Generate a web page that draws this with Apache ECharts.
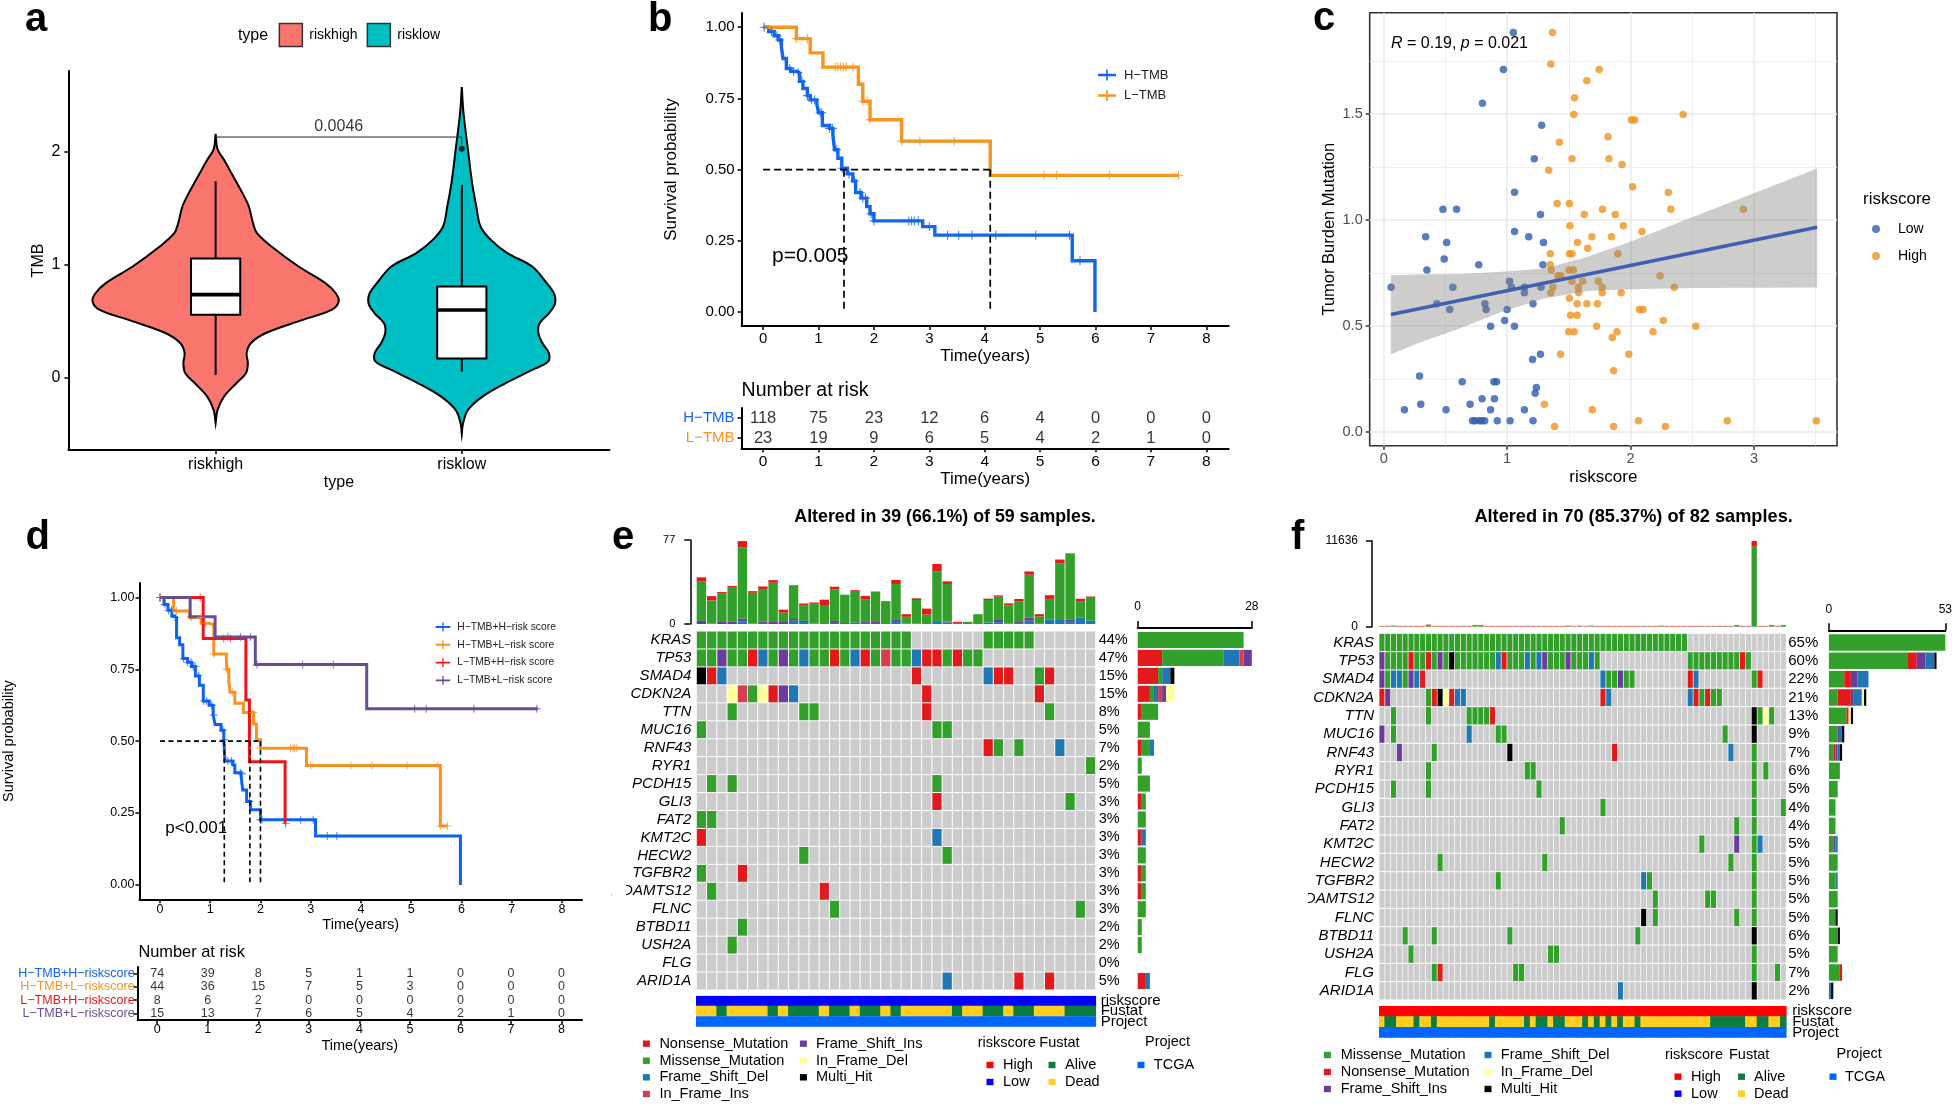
<!DOCTYPE html>
<html><head><meta charset="utf-8">
<style>html,body{margin:0;padding:0;background:#fff}#c{width:1955px;height:1106px}</style>
<script src="https://cdn.jsdelivr.net/npm/echarts@6/dist/echarts.min.js"></script>
</head><body><div id="c"></div>
<script>
// ---------- panel a ----------
const violinTypes = ['riskhigh', 'risklow'];
const violinHigh = [[2.156,0],[2.044,.005],[2,.012],[1.926,.034],[1.809,.064],[1.632,.109],[1.514,.135],[1.367,.152],[1.278,.168],[1.161,.227],[.984,.337],[.837,.446],[.748,.488],[.675,.5],[.601,.471],[.513,.354],[.395,.202],[.306,.143],[.218,.126],[.13,.131],[.041,.123],[-.047,.084],[-.165,.034],[-.283,.008],[-.401,0]];
const violinLow = [[2.568,0],[2.339,.007],[2.015,.025],[1.72,.042],[1.514,.059],[1.337,.076],[1.219,.118],[1.102,.185],[.984,.286],[.837,.345],[.748,.374],[.66,.379],[.571,.354],[.483,.316],[.395,.311],[.306,.328],[.218,.354],[.144,.35],[.071,.286],[-.047,.177],[-.165,.084],[-.283,.025],[-.401,.005],[-.495,0]];
const boxHigh = [.027,.557,.736,1.055,1.735];
const boxLow = [.056,.171,.6,.807,1.705];
const outlierLow = [[2,2.024]];
const bracket = [[1,2.127],[2,2.127],[2,2.06]];
// ---------- panel b ----------
const hTmb = [[0,1],[.1,.985],[.2,.97],[.28,.955],[.33,.93],[.36,.89],[.42,.855],[.5,.845],[.62,.84],[.66,.81],[.72,.785],[.8,.76],[.85,.745],[.97,.73],[1,.7],[1.07,.655],[1.2,.645],[1.26,.62],[1.29,.57],[1.35,.54],[1.42,.505],[1.52,.485],[1.62,.46],[1.67,.42],[1.77,.4],[1.87,.37],[1.93,.345],[2,.32],[2.88,.3],[3.1,.27],[5.58,.18],[5.99,0]];
const lTmb = [[0,1],[.6,.96],[.85,.91],[1.08,.86],[1.72,.8],[1.8,.74],[1.93,.675],[2.5,.6],[4.1,.48],[7.5,.48]];
const hTmbCens = [.02,.15,.25,.3,.48,.55,.63,.7,.8,.87,.93,1.03,1.06,1.2,1.25,1.33,1.43,1.55,1.65,1.75,1.8,1.85,1.95,2,2.63,2.68,2.73,2.8,3,3.33,3.53,3.77,4.2,4.92,5.53,5.72];
const lTmbCens = [.6,.8,1.3,1.35,1.4,1.45,1.5,1.62,1.8,1.88,1.93,2.5,2.83,3.45,5.07,5.3,6.25,7.5];
const medianB = {level:.5, times:[1.46,4.1]};
const riskTimes = [0,1,2,3,4,5,6,7,8];
const riskRowsB = ['H\u2212TMB','L\u2212TMB'];
const riskB = [[118,75,23,12,6,4,0,0,0],[23,19,9,6,5,4,2,1,0]];
// ---------- panel c ----------
const lowPts = [[1.05,1.885],[.97,1.71],[.8,1.55],[1.28,1.447],[1.22,1.288],[1.06,1.13],[.48,1.05],[.59,1.05],[1.27,1.025],[1.06,.945],[.34,.92],[1.175,.92],[.51,.893],[1.295,.893],[.49,.815],[.77,.788],[1.29,.788],[.35,.763],[1.02,.71],[.06,.682],[.56,.682],[1.035,.682],[1.14,.682],[1.275,.682],[1.14,.656],[.43,.604],[.82,.604],[1.21,.604],[.535,.577],[.83,.577],[1,.577],[.98,.525],[.866,.498],[1.06,.498],[1.27,.366],[1.206,.341],[.29,.263],[.636,.236],[.893,.236],[.914,.236],[1.237,.209],[1.227,.182],[.797,.156],[.897,.156],[.3,.13],[.7,.13],[.168,.104],[.505,.104],[.866,.104],[1.14,.104],[.72,.052],[.74,.052],[.777,.052],[.794,.052],[.818,.052],[.92,.052],[1.024,.052],[1.21,.052]];
const highPts = [[1.368,1.885],[1.354,1.736],[1.746,1.71],[1.646,1.657],[1.546,1.577],[1.54,1.498],[2.426,1.498],[2.007,1.472],[2.034,1.472],[1.818,1.393],[1.423,1.366],[1.526,1.288],[1.825,1.288],[1.931,1.261],[1.337,1.234],[2.017,1.156],[2.306,1.129],[1.405,1.077],[1.505,1.077],[1.773,1.05],[2.326,1.05],[2.914,1.05],[1.625,1.025],[1.876,1.025],[1.509,.972],[1.942,.972],[2.093,.945],[1.687,.92],[1.845,.92],[1.57,.893],[1.653,.866],[1.35,.84],[1.505,.84],[1.526,.84],[1.897,.84],[1.35,.788],[1.357,.763],[1.502,.763],[1.536,.763],[1.412,.736],[1.436,.736],[2.24,.736],[1.526,.71],[1.612,.71],[1.739,.71],[1.371,.682],[1.577,.682],[1.77,.682],[2.354,.682],[1.354,.656],[1.58,.656],[1.77,.656],[1.924,.656],[1.505,.63],[1.567,.604],[1.646,.604],[1.732,.604],[2.072,.577],[2.1,.577],[1.515,.55],[1.567,.55],[2.265,.525],[1.725,.498],[2.529,.498],[1.498,.472],[1.543,.472],[1.89,.472],[2.182,.472],[1.852,.445],[1.433,.366],[1.986,.366],[1.863,.288],[1.302,.13],[1.69,.104],[2.065,.052],[2.784,.052],[3.505,.052],[1.385,.025],[1.863,.025],[2.282,.025]];
const bandX = [.058,.271,.615,.959,1.302,1.646,1.99,2.505,3.512];
const bandUpper = [.739,.742,.744,.755,.77,.825,.896,1.014,1.242];
const bandLower = [.366,.417,.487,.566,.629,.664,.673,.678,.681];
const fitLine = [[.058,.553],[3.512,.965]];
const cMajorX = [0,1,2,3], cMinorX = [.5,1.5,2.5,3.5], cMajorY = [0,.5,1,1.5], cMinorY = [.25,.75,1.25,1.75];
// ---------- panel d ----------
const dHH = [[0,1],[.08,.975],[.16,.955],[.235,.935],[.29,.93],[.33,.86],[.39,.835],[.455,.787],[.55,.774],[.627,.76],[.705,.727],[.784,.694],[.862,.64],[.98,.625],[1.058,.591],[1.097,.558],[1.215,.538],[1.27,.505],[1.293,.431],[1.45,.417],[1.49,.39],[1.607,.386],[1.646,.33],[1.724,.29],[1.8,.261],[2,.227],[3.096,.17],[5.98,0]];
const dHL = [[0,1],[.27,.953],[.59,.93],[.82,.91],[.98,.905],[1.07,.803],[1.32,.785],[1.33,.75],[1.37,.71],[1.395,.67],[1.49,.632],[1.66,.6],[1.865,.56],[1.92,.505],[2,.475],[2.915,.415],[5.58,.205],[5.72,.205]];
const dLH = [[0,1],[.86,.857],[1.71,.643],[1.78,.428],[2.49,.214],[2.5,.214]];
const dLL = [[0,1],[.6,.933],[1.097,.862],[1.897,.767],[4.115,.613],[7.52,.613]];
const dHHCens = [0,.1,.17,.23,.3,.47,.55,.62,.66,.7,.77,.87,.93,1.03,1.07,1.25,1.28,1.35,1.42,1.6,1.63,1.78,2,2.03,2.8,3.05,3.33,3.52];
const dHLCens = [0,.33,.8,.9,1.07,1.33,1.45,1.85,2,2.6,2.65,2.68,2.72,3,3.8,4.22,4.92,5.53,5.58,5.72];
const dLHCens = [.8,1.27,1.4,2.5];
const dLLCens = [0,.62,1.35,1.6,1.8,1.93,2.84,3.45,5.07,5.3,6.25,7.5];
const medianD = {level:.5, times:[1.28,1.79,2]};
const dLegend = ['H\u2212TMB+H\u2212risk score','H\u2212TMB+L\u2212risk score','L\u2212TMB+H\u2212risk score','L\u2212TMB+L\u2212risk score'];
const riskRowsD = ['H\u2212TMB+H\u2212riskscore','H\u2212TMB+L\u2212riskscore','L\u2212TMB+H\u2212riskscore','L\u2212TMB+L\u2212riskscore'];
const riskD = [[74,39,8,5,1,1,0,0,0],[44,36,15,7,5,3,0,0,0],[8,6,2,0,0,0,0,0,0],[15,13,7,6,5,4,2,1,0]];
// ---------- panels e, f ----------
const genes = ['KRAS','TP53','SMAD4','CDKN2A','TTN','MUC16','RNF43','RYR1','PCDH15','GLI3','FAT2','KMT2C','HECW2','TGFBR2','ADAMTS12','FLNC','BTBD11','USH2A','FLG','ARID1A'];
const mutCodes = ['N','M','D','I','F','d','H'];
const mutNames = ['Nonsense_Mutation','Missense_Mutation','Frame_Shift_Del','In_Frame_Ins','Frame_Shift_Ins','In_Frame_Del','Multi_Hit'];
const mutColors = ['#e31a1c','#33a02c','#1f78b4','#d53e4f','#6a3d9a','#ffff99','#000000'];
const pctE = ['44%','47%','15%','15%','8%','5%','7%','2%','5%','3%','3%','3%','3%','3%','3%','3%','2%','2%','0%','5%'];
const pctF = ['65%','60%','22%','21%','13%','9%','7%','6%','5%','4%','4%','5%','5%','5%','5%','5%','6%','5%','7%','2%'];
const cellsE = ['0-20M 28-32M','0-1M 2F 3-4M 5N 6D 7M 8F 9M 10D 11-12M 13N 14M 15D 16N 17M 18I 19-20M 21D 22-23N 24M 25N 26-27M','0H 1N 2D 21N 28D 29-30N 33M 34N','3d 4I 5M 6d 7N 8F 9D 22N 33N','3M 10-11M 22N 34M','0M 23-24M','28N 29M 31M 35D','38M','1M 3M 23M','23N 36M','0-1M','0N 23D','10M 24M','0M 4N','1M 12N','13M 37M','4M','3M','','24D 31N 34N'];
const cellsF = ['0-52M','0F 1-4M 5N 6-7M 8N 9M 10F 11M 12H 13-19M 20D 21N 22-24M 25D 26M 27D 28F 29-31M 32F 33-35M 36D 37M 53-61M 62N 63M','0F 1M 2-3D 4M 5F 6D 7N 38D 39-40M 41F 42-43M 53N 54D 64M 65N','0N 1F 8M 9N 10H 11d 12N 13-14D 38N 39D 53D 54N 55M 56N 57-58M','2M 8M 15-18M 19N 64H 65M 66d 67M','0F 2M 15D 20-21M 59M 64H','3F 9M 22H 40N 60D 64M','8M 25-26M 64M 66M','2M 8M 27M 64M','38M 64M 69M','31M 61M 64M','55M 61F 64M 65D','10M 28M 60M 64M','20M 45D 46M 64M','47M 56-57M 64M','45H 47M 61M 64M','4M 9M 22M 44M 64H','5M 29-30M 64M','9M 10N 23-24M 64M 68M','41D 64H'];
const topEDel = [0,.6,0,0,2.5,.6,1,0,0,3,1.8,.6,0,1,.9,1.5,1,.9,0,2.7,.6,.6,0,2,1.5,0,0,0,1.5,1.7,.6,.8,3,.6,4.3,3.7,2,6,3];
const topEIns = [2.8,0,1.8,2,2.5,0,1,1.8,1.8,1.6,1,0,0,1.8,0,0,.8,.9,0,1,0,0,0,.8,.6,0,0,0,0,2,0,1,2.8,0,0,0,2.3,0,0];
const topEMis = [36,21,26,32,65,28,30,36,8.6,31,14,18,17.4,29,26,28,21,28,21,33,6,21.4,8.6,45.6,34.6,1,2,9,20.5,21.4,16.5,19,39.4,6.4,18.7,52,60.5,15,21];
const topENon = [4,4,1.5,1,6,1.5,2.4,2.4,2.8,0,2,1.2,4.9,2.4,0,1.5,3,0,0,3.7,2.4,1.5,5.5,6.7,2.4,1,0,0,1.2,1.2,1.8,2.1,3,2,3.4,3.4,0,2.1,1.2];
const topFMis = [30,30,60,30,30,30,30,30,200,30,30,30,30,30,30,30,160,160,30,30,30,30,30,30,30,30,30,30,30,30,30,30,60,30,60,30,60,30,30,30,30,30,30,30,30,30,30,30,60,30,30,30,30,30,30,30,30,30,30,30,30,160,30,30,10866,30,30,160,30,160];
const topFNon = [80,80,80,80,80,80,80,80,80,80,80,80,80,80,80,80,80,80,80,80,80,80,80,80,80,80,80,80,80,80,80,80,80,80,80,80,80,80,80,80,80,80,80,80,80,80,80,80,80,80,80,80,80,80,80,80,80,80,80,80,80,80,80,80,770,80,80,80,80,80];
const annoRows = ['riskscore','Fustat','Project'];
const fustatE = 'DDADDDDADAAADAADAADADDDDDADDAADAADDDAAA';
const fustatF = 'DAADDDADDADDDDDDDDDADDDDDADAADAADDDADADADADDADDDDDDDDDDDDAAAAAADDAADDA';
const annoColors = {High:'#ff0000', Low:'#0000ff', Alive:'#0b7d43', Dead:'#ffd01f', TCGA:'#0066ff'};

// ---------- helpers ----------
const FF = '"Liberation Sans"';
const grid = [], xAxis = [], yAxis = [], series = [], graphic = [], legend = [];
const PLUS = 'path://M0 4.4H4.4V0H5.6V4.4H10V5.6H5.6V10H4.4V5.6H0Z';
const KEY = 'path://M0 4.3H8.2V0H9.8V4.3H18V6.7H9.8V11H8.2V6.7H0Z';
function addGrid(l,t,r,b,extra){grid.push(Object.assign({left:l,top:t,width:r-l,height:b-t,containLabel:false},extra||{}));return grid.length-1;}
function add(a,o){a.push(o);return a.length-1;}
function valAxis(g,min,max,ticks,o){o=o||{};
  return {type:'value',gridIndex:g,min,max,position:o.position,offset:o.offset||0,
    axisLine:{show:o.line!==false,onZero:false,lineStyle:{color:o.lineColor||'#000',width:o.lineWidth||2}},
    axisTick:{show:o.tick!==false,length:o.tickLen||4,customValues:ticks,lineStyle:{color:o.lineColor||'#000',width:o.tickWidth||1.5}},
    axisLabel:{show:o.label!==false,customValues:ticks,formatter:o.fmt||(v=>String(v)),fontFamily:FF,fontSize:o.fs||15,color:o.color||'#000',margin:o.margin==null?6:o.margin,hideOverlap:false,showMinLabel:true,showMaxLabel:true},
    splitLine:{show:false},minorTick:{show:false},minorSplitLine:{show:false},
    name:o.name||'',nameLocation:'middle',nameGap:o.nameGap||0,nameTextStyle:{fontFamily:FF,fontSize:o.nameSize||16,color:'#000'}};
}
function catAxis(g,data,o){o=o||{};
  return {type:'category',gridIndex:g,data,inverse:!!o.inverse,position:o.position,show:o.show!==false,boundaryGap:true,
    axisLine:{show:!!o.line,onZero:false,lineStyle:{color:'#000',width:2}},axisTick:{show:!!o.tick,alignWithLabel:true,length:4,lineStyle:{color:'#000',width:1.5}},
    axisLabel:{show:o.label!==false,interval:0,fontFamily:FF,fontSize:o.fs||15,fontStyle:o.italic?'italic':'normal',color:o.color||'#000',margin:o.margin==null?5:o.margin},splitLine:{show:false}};
}
function T(x,y,text,size,o){o=o||{};
  graphic.push({type:'text',x,y,z:50,silent:true,rotation:o.rot||0,style:Object.assign({text,fill:o.color||'#000',fontFamily:FF,fontSize:size,fontWeight:o.weight||'normal',fontStyle:o.italic?'italic':'normal',textAlign:o.align||'left',textVerticalAlign:'middle',align:o.align||'left',verticalAlign:'middle'},o.style||{})});
}
function swatch(x,y,color){graphic.push({type:'rect',z:50,silent:true,shape:{x:x-3.5,y:y-3.2,width:7,height:6.4},style:{fill:color}});}
function survAt(curve,t){let s=curve[0][1];for(const p of curve){if(p[0]<=t)s=p[1];}return s;}
function addKM(xi,yi,name,curve,cens,color,width,plusSize){
  series.push({type:'line',name,xAxisIndex:xi,yAxisIndex:yi,data:curve,step:'end',symbol:'none',z:5,lineStyle:{color,width,cap:'butt',join:'miter'},itemStyle:{color},silent:true});
  series.push({type:'scatter',xAxisIndex:xi,yAxisIndex:yi,data:cens.map(t=>[t,survAt(curve,t)]),symbol:PLUS,symbolSize:plusSize,z:5,itemStyle:{color},silent:true});
}
function addMedian(xi,yi,m,w,dash){
  const opt={type:'line',xAxisIndex:xi,yAxisIndex:yi,symbol:'none',z:6,silent:true,lineStyle:{color:'#000',width:w,type:dash}};
  series.push(Object.assign({},opt,{data:[[0,m.level],[Math.max(...m.times),m.level]]}));
  m.times.forEach(t=>series.push(Object.assign({},opt,{data:[[t,m.level],[t,0]]})));
}
function addRisk(g,rows,vals,colors,o){
  const xi=add(xAxis,valAxis(g,-.388,8.404,riskTimes,{fs:o.tickFs||o.fs,margin:o.margin,name:'Time(years)',nameGap:o.nameGap,nameSize:o.nameSize,position:'bottom'}));
  const ya=catAxis(g,rows,{inverse:true,line:true,tick:true,fs:o.labelFs,margin:o.labelMargin,color:(v,i)=>colors[i]});
  const yi=add(yAxis,ya);
  const data=[];vals.forEach((r,i)=>r.forEach((v,j)=>data.push([riskTimes[j],i,v])));
  series.push({type:'scatter',xAxisIndex:xi,yAxisIndex:yi,data,symbolSize:0,silent:true,label:{show:true,position:'inside',formatter:p=>String(p.value[2]),fontFamily:FF,fontSize:o.fs,color:'#000'}});
}
function polyItem(points,style){return {type:'polygon',shape:{points},style};}
function parseCells(list){return list.map(s=>{const m={};s.split(' ').filter(Boolean).forEach(tok=>{const r=tok.match(/^(\d+)(?:-(\d+))?([A-Za-z])$/);const a=+r[1],b=r[2]?+r[2]:a;for(let i=a;i<=b;i++)m[i]=r[3];});return m;});}
function cellItem(colorOf,gx,gy){return (p,api)=>{const c=api.coord([api.value(0),api.value(1)]),s=api.size([1,1]);
  return {type:'rect',shape:{x:c[0]-s[0]/2+gx/2,y:c[1]-s[1]/2+gy/2,width:s[0]-gx,height:s[1]-gy},style:{fill:colorOf(api.value(2))}};};}
function addOnco(o){
  const cols=Array.from({length:o.n},(_,i)=>i);
  const parsed=parseCells(o.cells);
  const gt=addGrid(o.left,o.topT,o.right,o.topB);
  const xt=add(xAxis,catAxis(gt,cols,{show:false}));
  const yt=add(yAxis,valAxis(gt,0,o.topMax,[0,o.topMax],{offset:o.topOffset,lineWidth:1.5,tickLen:6,fs:o.topFs,margin:o.topMargin}));
  o.topStacks.forEach(st=>series.push({type:'bar',stack:'t'+gt,xAxisIndex:xt,yAxisIndex:yt,data:st.v,barWidth:'92%',silent:true,itemStyle:{color:st.c}}));
  const gm=addGrid(o.left,o.matT,o.right,o.matB);
  const xm=add(xAxis,catAxis(gm,cols,{show:false}));
  const ym=add(yAxis,catAxis(gm,genes,{inverse:true,italic:true,fs:o.geneFs,margin:o.geneMargin}));
  add(yAxis,catAxis(gm,o.pct,{inverse:true,position:'right',fs:o.fs,margin:o.pctMargin}));
  const data=[];
  parsed.forEach((m,r)=>cols.forEach(c=>data.push([c,r,m[c]?mutCodes.indexOf(m[c]):-1])));
  series.push({type:'custom',xAxisIndex:xm,yAxisIndex:ym,data,silent:true,encode:{x:0,y:1},clip:false,renderItem:cellItem(v=>v<0?'#cccccc':mutColors[v],o.gapX,1)});
  const gr=addGrid(o.barL,o.matT,o.barR,o.matB);
  const xr=add(xAxis,valAxis(gr,0,o.barMax,[0,o.barMax],{position:'top',offset:o.barOffset,tickLen:7,fs:12,margin:o.barMargin,lineWidth:2}));
  const yr=add(yAxis,catAxis(gr,genes,{inverse:true,show:false}));
  o.barOrder.forEach(code=>{const i=mutCodes.indexOf(code);
    series.push({type:'bar',stack:'r'+gr,xAxisIndex:xr,yAxisIndex:yr,barWidth:'90%',silent:true,itemStyle:{color:mutColors[i]},
      data:parsed.map(m=>Object.values(m).filter(v=>v===code).length)});});
  const ga=addGrid(o.left,o.annoT,o.right,o.annoB);
  const xa=add(xAxis,catAxis(ga,cols,{show:false}));
  const ya=add(yAxis,catAxis(ga,annoRows,{inverse:true,position:'right',fs:15,margin:o.annoMargin}));
  const names=['High','Low','Alive','Dead','TCGA'];
  const ad=[];cols.forEach(c=>{ad.push([c,0,names.indexOf(o.risk)]);ad.push([c,1,o.fustat[c]==='A'?2:3]);ad.push([c,2,4]);});
  series.push({type:'custom',xAxisIndex:xa,yAxisIndex:ya,data:ad,silent:true,clip:true,encode:{x:0,y:1},renderItem:cellItem(v=>annoColors[names[v]],-.8,-.4)});
  T((o.left+o.right)/2+o.titleDx,516.7,o.title,o.titleFs,{weight:'bold',align:'center'});
}

// ---------- panel a ----------
const gA=addGrid(68.4,71,609.5,450);
const xA=add(xAxis,valAxis(gA,.402,2.6,[1,2],{fs:16,margin:7,fmt:v=>violinTypes[v-1],name:'type',nameGap:25,nameSize:16}));
const yA=add(yAxis,valAxis(gA,-.636,2.71,[0,1,2],{fs:16,margin:8,name:'TMB',nameGap:22,nameSize:16}));
function violinSeries(name,center,prof,box,color){
  series.push({type:'custom',name,xAxisIndex:xA,yAxisIndex:yA,data:[[center]],silent:true,z:2,itemStyle:{color},
    renderItem:(p,api)=>{
      const c=api.value(0);
      const pts=prof.map(q=>api.coord([c-q[1],q[0]])).concat(prof.slice().reverse().map(q=>api.coord([c+q[1],q[0]])));
      const hw=.1;
      const line=(a,b,w)=>({type:'line',shape:{x1:api.coord(a)[0],y1:api.coord(a)[1],x2:api.coord(b)[0],y2:api.coord(b)[1]},style:{stroke:'#000',lineWidth:w||2}});
      const tl=api.coord([c-hw,box[3]]),br=api.coord([c+hw,box[1]]);
      return {type:'group',children:[
        {type:'polygon',shape:{points:pts,smooth:.35},style:{fill:color,stroke:'#000',lineWidth:2}},
        line([c,box[0]],[c,box[1]]),line([c,box[3]],[c,box[4]]),
        {type:'rect',shape:{x:tl[0],y:tl[1],width:br[0]-tl[0],height:br[1]-tl[1]},style:{fill:'#fff',stroke:'#000',lineWidth:2}},
        line([c-hw,box[2]],[c+hw,box[2]],3.6)
      ]};
    }});
}
violinSeries(violinTypes[0],1,violinHigh,boxHigh,'#f8766d');
violinSeries(violinTypes[1],2,violinLow,boxLow,'#00bfc4');
series.push({type:'scatter',xAxisIndex:xA,yAxisIndex:yA,data:outlierLow,symbolSize:6,itemStyle:{color:'#000'},z:4,silent:true});
series.push({type:'line',xAxisIndex:xA,yAxisIndex:yA,data:bracket,symbol:'none',z:4,silent:true,lineStyle:{color:'#222',width:1}});
series.push({type:'scatter',xAxisIndex:xA,yAxisIndex:yA,data:[[1.5,2.127]],symbolSize:0,silent:true,label:{show:true,position:'top',distance:2,formatter:'0.0046',fontFamily:FF,fontSize:16,color:'#000'}});
legend.push({left:278.6,top:22.7,padding:0,itemWidth:23,itemHeight:23,itemGap:9,selectedMode:false,data:[
  {name:violinTypes[0],icon:'rect',itemStyle:{color:'#f8766d',borderColor:'#333',borderWidth:1.5}},
  {name:violinTypes[1],icon:'rect',itemStyle:{color:'#00bfc4',borderColor:'#333',borderWidth:1.5}}],
  textStyle:{fontFamily:FF,fontSize:14,color:'#000',padding:[0,0,0,2]}});
T(253,35.5,'type',16,{align:'center'});
T(25,20,'a',40,{weight:'bold'});

// ---------- panel b ----------
const gB=addGrid(741.6,13,1228.7,326);
const xB=add(xAxis,valAxis(gB,-.388,8.404,riskTimes,{fs:15,margin:5,name:'Time(years)',nameGap:22,nameSize:17}));
const yB=add(yAxis,valAxis(gB,-.049,1.05,[0,.25,.5,.75,1],{fs:15,margin:7,fmt:v=>v.toFixed(2),name:'Survival probability',nameGap:62,nameSize:17}));
addKM(xB,yB,riskRowsB[0],hTmb,hTmbCens,'#1265ee',3.4,9);
addKM(xB,yB,riskRowsB[1],lTmb,lTmbCens,'#f7941d',3.4,9);
addMedian(xB,yB,medianB,1.7,[7,4]);
legend.push({orient:'vertical',left:1098,top:68.5,padding:0,itemWidth:18,itemHeight:11,itemGap:7.5,selectedMode:false,
  data:[{name:riskRowsB[0],icon:KEY,itemStyle:{color:'#1265ee'}},{name:riskRowsB[1],icon:KEY,itemStyle:{color:'#f7941d'}}],
  textStyle:{fontFamily:FF,fontSize:13,color:'#222',padding:[0,0,0,3]}});
T(772,256,'p=0.005',21);
T(741.6,391,'Number at risk',19.5);
T(648,20,'b',40,{weight:'bold'});
const gBt=addGrid(741.6,408,1228.7,448.3);
addRisk(gBt,riskRowsB,riskB,['#1265ee','#f7941d'],{fs:16.5,tickFs:15.5,margin:5,nameGap:23,nameSize:17,labelFs:15,labelMargin:7});

// ---------- panel c ----------
const gC=addGrid(1369.7,12.7,1837,445.7,{show:true,borderColor:'#333',borderWidth:1.6,backgroundColor:'#fff'});
const xC=add(xAxis,valAxis(gC,-.1135,3.673,cMajorX,{fs:14.5,margin:6,line:false,color:'#4d4d4d',lineColor:'#333',name:'riskscore',nameGap:23,nameSize:17}));
const yC=add(yAxis,valAxis(gC,-.066,1.978,cMajorY,{fs:14.5,margin:7,line:false,color:'#4d4d4d',lineColor:'#333',fmt:v=>v.toFixed(1),name:'Tumor Burden Mutation',nameGap:32,nameSize:16.5}));
const gl=(arr,key,w)=>arr.map(v=>({[key]:v,lineStyle:{width:w,color:'#ebebeb',type:'solid'}}));
series.push({type:'line',xAxisIndex:xC,yAxisIndex:yC,data:[],z:1,silent:true,markLine:{z:1,silent:true,symbol:'none',label:{show:false},animation:false,
  data:[...gl(cMinorX,'xAxis',.8),...gl(cMinorY,'yAxis',.8),...gl(cMajorX,'xAxis',1.6),...gl(cMajorY,'yAxis',1.6)]}});
series.push({type:'scatter',name:'Low',xAxisIndex:xC,yAxisIndex:yC,data:lowPts,symbolSize:7.5,z:2,silent:true,itemStyle:{color:'#2f5eae'}});
series.push({type:'scatter',name:'High',xAxisIndex:xC,yAxisIndex:yC,data:highPts,symbolSize:7.5,z:2,silent:true,itemStyle:{color:'#ef9320'}});
series.push({type:'custom',xAxisIndex:xC,yAxisIndex:yC,data:[[0]],z:3,silent:true,clip:false,renderItem:(p,api)=>polyItem(
  bandX.map((x,i)=>api.coord([x,bandUpper[i]])).concat(bandX.map((x,i)=>api.coord([x,bandLower[i]])).reverse()),{fill:'rgba(130,130,125,.4)'})});
series.push({type:'line',xAxisIndex:xC,yAxisIndex:yC,data:fitLine,symbol:'none',z:4,silent:true,lineStyle:{color:'#3f5fb2',width:3.6}});
T(1391,44,'{i|R} = 0.19, {i|p} = 0.021',16,{style:{rich:{i:{fontStyle:'italic',fontFamily:FF,fontSize:16,fill:'#000'}}}});
T(1863,199,'riskscore',17);
legend.push({orient:'vertical',left:1872,top:222,padding:0,itemWidth:8,itemHeight:8,itemGap:13,selectedMode:false,
  data:[{name:'Low',icon:'circle',itemStyle:{color:'#2f5eae'}},{name:'High',icon:'circle',itemStyle:{color:'#ef9320'}}],
  textStyle:{fontFamily:FF,fontSize:14,color:'#000',padding:[0,0,0,13]}});
T(1313,19,'c',40,{weight:'bold'});

// ---------- panel d ----------
const dColors=['#0d62f2','#f7931e','#f01414','#6a4c93'];
const gD=addGrid(137.6,583,582,899.3);
const xD=add(xAxis,valAxis(gD,-.408,8.4,riskTimes,{fs:12.5,margin:4,name:'Time(years)',nameGap:18.5,nameSize:14.5}));
const yD=add(yAxis,valAxis(gD,-.05,1.05,[0,.25,.5,.75,1],{fs:12.5,margin:5,fmt:v=>v.toFixed(2),name:'Survival probability',nameGap:123.5,nameSize:14.5}));
[[dHH,dHHCens],[dHL,dHLCens],[dLH,dLHCens],[dLL,dLLCens]].forEach((s,i)=>addKM(xD,yD,dLegend[i],s[0],s[1],dColors[i],3,8));
addMedian(xD,yD,medianD,1.6,[5,3.5]);
legend.push({orient:'vertical',left:435.7,top:622,padding:0,itemWidth:14.5,itemHeight:9,itemGap:7.8,selectedMode:false,
  data:dLegend.map((n,i)=>({name:n,icon:KEY,itemStyle:{color:dColors[i]}})),
  textStyle:{fontFamily:FF,fontSize:10.3,color:'#222',padding:[0,0,0,2]}});
T(165.3,828.6,'p<0.001',17);
T(138.4,952.5,'Number at risk',16.4);
T(25.5,538,'d',40,{weight:'bold'});
const gDt=addGrid(137.6,967,582,1020);
addRisk(gDt,riskRowsD,riskD,dColors,{fs:12.5,margin:3.5,nameGap:18.5,nameSize:14.5,labelFs:12.5,labelMargin:3});

// ---------- panel e ----------
addOnco({n:39,left:696.3,right:1095.7,matT:631,matB:990,cells:cellsE,pct:pctE,fs:14.5,geneFs:15,geneMargin:5,pctMargin:3,gapX:1,
  topT:540,topB:624,topMax:77,topOffset:6,topFs:11,topMargin:15,
  topStacks:[{v:topEDel,c:mutColors[2]},{v:topEIns,c:mutColors[4]},{v:topEMis,c:mutColors[1]},{v:topENon,c:mutColors[0]}],
  barL:1137.7,barR:1251.8,barMax:28,barOffset:3,barMargin:15,barOrder:['N','M','D','I','F','d','H'],
  annoT:995.7,annoB:1026.7,annoMargin:5,risk:'Low',fustat:fustatE,title:'Altered in 39 (66.1%) of 59 samples.',titleDx:49,titleFs:17.8});
[[646.4,659.4,[0,1,2,3],[1043.7,1060.7,1077.3,1094]],[803.4,816,[4,5,6],[1043.7,1060.7,1077.3]]].forEach(c=>c[2].forEach((k,i)=>{swatch(c[0],c[3][i],mutColors[k]);T(c[1],c[3][i],mutNames[k],14.5);}));
T(977.7,1043,'riskscore',14.5);T(1039.3,1043,'Fustat',14.5);T(1145,1041.7,'Project',14.5);
[[990,1003,'High',1065],[990,1003,'Low',1082],[1052,1065,'Alive',1065],[1052,1065,'Dead',1082],[1141,1153.8,'TCGA',1065]].forEach(r=>{swatch(r[0],r[3],annoColors[r[2]]);T(r[1],r[3],r[2],14.5);});
T(612,538,'e',40,{weight:'bold'});

// ---------- panel f ----------
addOnco({n:70,left:1379,right:1786.2,matT:633.3,matB:1000,cells:cellsF,pct:pctF,fs:15,geneFs:15,geneMargin:5,pctMargin:2,gapX:.7,
  topT:541,topB:626.7,topMax:11636,topOffset:7,topFs:12,topMargin:14,
  topStacks:[{v:topFMis,c:mutColors[1]},{v:topFNon,c:mutColors[0]}],
  barL:1828.9,barR:1946,barMax:53,barOffset:3,barMargin:15,barOrder:['M','N','F','D','d','H'],
  annoT:1006,annoB:1037.7,annoMargin:6,risk:'High',fustat:fustatF,title:'Altered in 70 (85.37%) of 82 samples.',titleDx:51,titleFs:18.2});
[[1327.4,1340.7,[1,0,4],[1055,1072,1089]],[1488,1500.8,[2,5,6],[1055,1072,1089]]].forEach(c=>c[2].forEach((k,i)=>{swatch(c[0],c[3][i],mutColors[k]);T(c[1],c[3][i],mutNames[k],14.5);}));
T(1665,1054.7,'riskscore',14.5);T(1729,1054.7,'Fustat',14.5);T(1836.6,1054,'Project',14.5);
[[1678,1691,'High',1076.7],[1678,1691,'Low',1093.7],[1741.5,1754,'Alive',1076.7],[1741.5,1754,'Dead',1093.7],[1833,1845,'TCGA',1076.7]].forEach(r=>{swatch(r[0],r[3],annoColors[r[2]]);T(r[1],r[3],r[2],14.5);});
T(1291,538,'f',40,{weight:'bold'});
// the gene label ADAMTS12 is cut at its left edge in the reference
graphic.push({type:'rect',z:60,silent:true,shape:{x:612,y:882,width:14,height:18},style:{fill:'#fff'}});
graphic.push({type:'rect',z:60,silent:true,shape:{x:1294,y:890,width:14,height:18},style:{fill:'#fff'}});

const chart=echarts.init(document.getElementById('c'),null,{renderer:'canvas'});
chart.setOption({animation:false,backgroundColor:'#fff',grid,xAxis,yAxis,series,legend,graphic:{elements:graphic},tooltip:{show:false}});
</script></body></html>
